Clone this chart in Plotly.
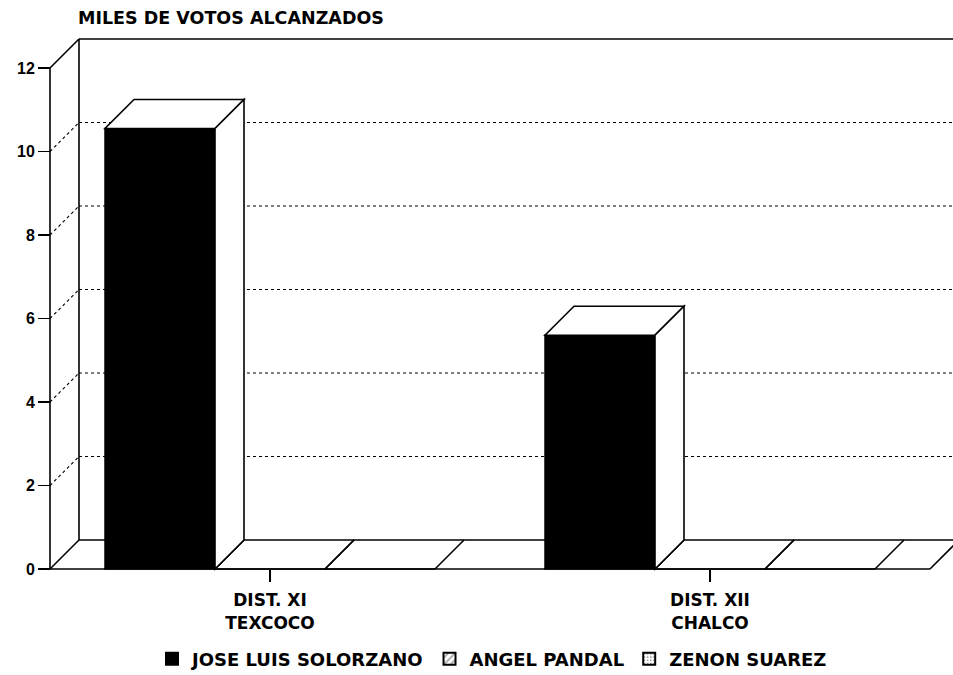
import plotly.graph_objects as go

# ---------------- data ----------------
districts = ["DIST. XI", "DIST. XII"]
places = ["TEXCOCO", "CHALCO"]
candidates = ["JOSE LUIS SOLORZANO", "ANGEL PANDAL", "ZENON SUAREZ"]
solorzano = [10.55, 5.6]
pandal = [0, 0]
suarez = [0, 0]
y_ticks = [0, 2, 4, 6, 8, 10, 12]
title_text = "MILES DE VOTOS ALCANZADOS"

series = [solorzano, pandal, suarez]
categories = [f"{d}<br>{p}" for d, p in zip(districts, places)]

# ---------------- geometry (pixels) ----------------
W, H = 953, 675
L, R, T, B = 38, 0, 36, 100
PW, PH = W - L - R, H - T - B
X0PX = 50        # pixel of front-left corner
XPX = 440        # pixels per category
Y0PX = 569       # pixel of value 0 (front)
YPX = 41.75      # pixels per unit
DEPTH_X, DEPTH_Y = 29, 29

xr = [-0.5 - (X0PX - L) / XPX, -0.5 + (W - R - X0PX) / XPX]
yr = [-(H - B - Y0PX) / YPX, (Y0PX - T) / YPX]
DX = DEPTH_X / XPX
DY = DEPTH_Y / YPX
BARGAP = 0.25
n = len(series)
bw = (1 - BARGAP) / n
ymax = y_ticks[-1]
xl = -0.5
xrf = len(categories) - 0.5

fig = go.Figure()
styles = [
    dict(color="black", line=dict(color="black", width=1.5)),
    dict(color="white", line=dict(color="black", width=1.5),
         pattern=dict(shape="/", fgcolor="black", bgcolor="white", size=6, solidity=0.25)),
    dict(color="white", line=dict(color="black", width=1.5),
         pattern=dict(shape=".", fgcolor="black", bgcolor="white", size=4, solidity=0.2)),
]
for name, vals, st in zip(candidates, series, styles):
    fig.add_trace(go.Bar(name=name, x=categories, y=vals, marker=st,
                         hoverinfo="skip"))

LW = 1.6
shapes = []


def line(x0, y0, x1, y1, dash="solid", width=LW, layer="below"):
    shapes.append(dict(type="line", xref="x", yref="y", x0=x0, y0=y0, x1=x1, y1=y1,
                       line=dict(color="black", width=width, dash=dash), layer=layer))


# back wall gridlines and left wall dotted slants
for v in y_ticks[1:-1]:
    line(xl + DX, v + DY, xr[1], v + DY, dash="dot", width=1.1)
    line(xl, v, xl + DX, v + DY, dash="dot", width=1.1)
# walls
line(xl + DX, ymax + DY, xr[1], ymax + DY)
line(xl + DX, DY, xl + DX, ymax + DY)
line(xl, 0, xl, ymax)
line(xl, ymax, xl + DX, ymax + DY)
# floor
line(xl, 0, xrf, 0)
line(xl + DX, DY, xr[1], DY)
line(xl, 0, xl + DX, DY)
line(xrf, 0, xrf + DX, DY)
for k, vals in enumerate(series):
    for i, v in enumerate(vals):
        x0 = i - (1 - BARGAP) / 2 + k * bw
        x1 = x0 + bw
        line(x0, 0, x0 + DX, DY)
        line(x1, 0, x1 + DX, DY)

# 3D faces of bars
for k, vals in enumerate(series):
    for i, v in enumerate(vals):
        if v <= 0:
            continue
        x0 = i - (1 - BARGAP) / 2 + k * bw
        x1 = x0 + bw
        top = f"M{x0},{v} L{x1},{v} L{x1 + DX},{v + DY} L{x0 + DX},{v + DY} Z"
        side = f"M{x1},0 L{x1 + DX},{DY} L{x1 + DX},{v + DY} L{x1},{v} Z"
        for p in (top, side):
            shapes.append(dict(type="path", xref="x", yref="y", path=p,
                               fillcolor="white",
                               line=dict(color="black", width=LW), layer="above"))

fig.update_layout(
    width=W, height=H,
    margin=dict(l=L, r=R, t=T, b=B, pad=0),
    paper_bgcolor="white", plot_bgcolor="white",
    barmode="group", bargap=BARGAP, bargroupgap=0,
    shapes=shapes,
    showlegend=True,
    title=dict(text=title_text, x=78 / W, xanchor="left", y=1 - 18 / H, yanchor="middle",
               xref="container", yref="container",
               font=dict(family="DejaVu Sans", size=17.5, color="black", weight="bold")),
    legend=dict(orientation="h", x=492 / W, xanchor="center", y=1 - 659 / H, yanchor="middle",
                xref="container", yref="container",
                font=dict(family="DejaVu Sans", size=18, color="black", weight="bold"),
                itemsizing="constant", bgcolor="rgba(0,0,0,0)"),
    xaxis=dict(range=xr, type="category", showgrid=False, zeroline=False, showline=False,
               anchor="free", position=(H - B - Y0PX) / PH,
               ticks="outside", ticklen=12, tickwidth=1.5, tickcolor="black",
               ticklabelstandoff=4,
               tickfont=dict(family="DejaVu Sans", size=17, color="black", weight="bold")),
    yaxis=dict(range=yr, tickvals=y_ticks, showgrid=False, zeroline=False, showline=False,
               anchor="free", position=(X0PX - L) / PW,
               ticks="outside", ticklen=12, tickwidth=1.5, tickcolor="black",
               tickfont=dict(family="Liberation Sans", size=16, color="black", weight="bold")),
)

fig.write_html(
    "out.html",
    config={"displayModeBar": False, "staticPlot": True},
    post_script="document.body.style.margin='0';document.body.style.padding='0';"
                "document.body.style.overflow='hidden';",
)
